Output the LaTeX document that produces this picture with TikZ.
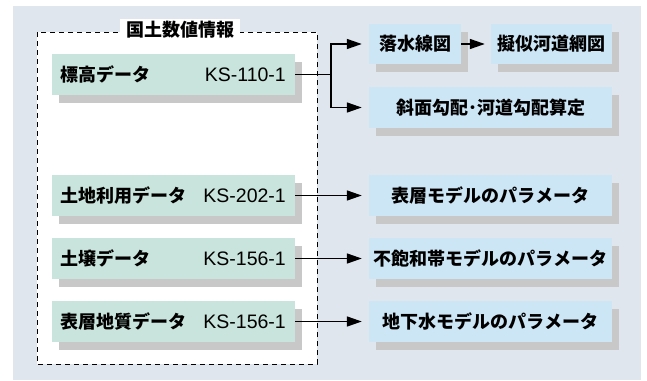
\documentclass[tikz,border=0pt]{standalone}
\usepackage{fontspec}
\setmainfont{Liberation Sans}
\newfontfamily\jp{Noto Sans CJK JP}
\usetikzlibrary{arrows.meta,shadows}
\definecolor{bgc}{HTML}{DFE6EE}
\definecolor{grn}{HTML}{C8E4DC}
\definecolor{blu}{HTML}{CCE6F6}
\definecolor{shd}{HTML}{C8C8C8}
\tikzset{
  boxbase/.style={rectangle, inner sep=0pt, minimum height=41pt,
    drop shadow={shadow xshift=7pt, shadow yshift=-8pt, fill=shd, opacity=1}},
  gbox/.style={boxbase, fill=grn, minimum width=243pt},
  bbox/.style={boxbase, fill=blu, font=\jp\bfseries\fontsize{18}{20}\selectfont},
  jlab/.style={anchor=west, inner sep=0pt, font=\jp\bfseries\fontsize{18}{20}\selectfont},
  klab/.style={anchor=east, inner sep=0pt, font=\fontsize{19.5}{21}\selectfont},
  conn/.style={line width=1.5pt, -{Triangle[length=15pt,width=10pt]}, shorten >=7pt},
}
\begin{document}
\begin{tikzpicture}[x=1pt,y=-1pt]
\useasboundingbox (0,0) rectangle (647,380);
\fill[bgc] (13,6) rectangle (641,380);
\draw[line width=1pt, dash pattern=on 5pt off 4pt, fill=white] (37,32) rectangle (317,364);
\node[fill=white, inner xsep=6pt, inner ysep=2pt, font=\jp\bfseries\fontsize{18}{20}\selectfont] (title) at (180,30) {国土数値情報};

% green boxes
\node[gbox] (g1) at (173.5,74.5) {};
\node[gbox] (g2) at (173.5,195.5) {};
\node[gbox] (g3) at (173.5,258.5) {};
\node[gbox] (g4) at (173.5,321.5) {};
\node[jlab] (t1) at (60,74.5) {標高データ};
\node[jlab] (t2) at (60,195.5) {土地利用データ};
\node[jlab] (t3) at (60,258.5) {土壌データ};
\node[jlab] (t4) at (60,321.5) {表層地質データ};
\node[klab] (k1) at (286,75) {KS-110-1};
\node[klab] (k2) at (286,196) {KS-202-1};
\node[klab] (k3) at (286,259) {KS-156-1};
\node[klab] (k4) at (286,322) {KS-156-1};

% blue boxes
\node[bbox, minimum width=92pt, minimum height=40pt] (b1) at (415,44) {落水線図};
\node[bbox, minimum width=121pt, minimum height=40pt] (b2) at (551.5,44) {擬似河道網図};
\node[bbox, minimum width=243pt] (b3) at (490.5,107.5) {斜面勾配･河道勾配算定};
\node[bbox, minimum width=243pt] (b4) at (490.5,195.5) {表層モデルのパラメータ};
\node[bbox, minimum width=243pt] (b5) at (490.5,258.5) {不飽和帯モデルのパラメータ};
\node[bbox, minimum width=243pt] (b6) at (490.5,321.5) {地下水モデルのパラメータ};

% connectors
\coordinate (j) at (331,74.5);
\draw[line width=1.5pt] (g1.east) -- (j);
\draw[conn] (j) |- (b1.west);
\draw[conn] (j) |- (b3.west);
\draw[conn, shorten >=6pt] (b1.east) -- (b2.west);
\draw[conn] (g2.east) -- (b4.west);
\draw[conn] (g3.east) -- (b5.west);
\draw[conn] (g4.east) -- (b6.west);
\end{tikzpicture}
\end{document}
